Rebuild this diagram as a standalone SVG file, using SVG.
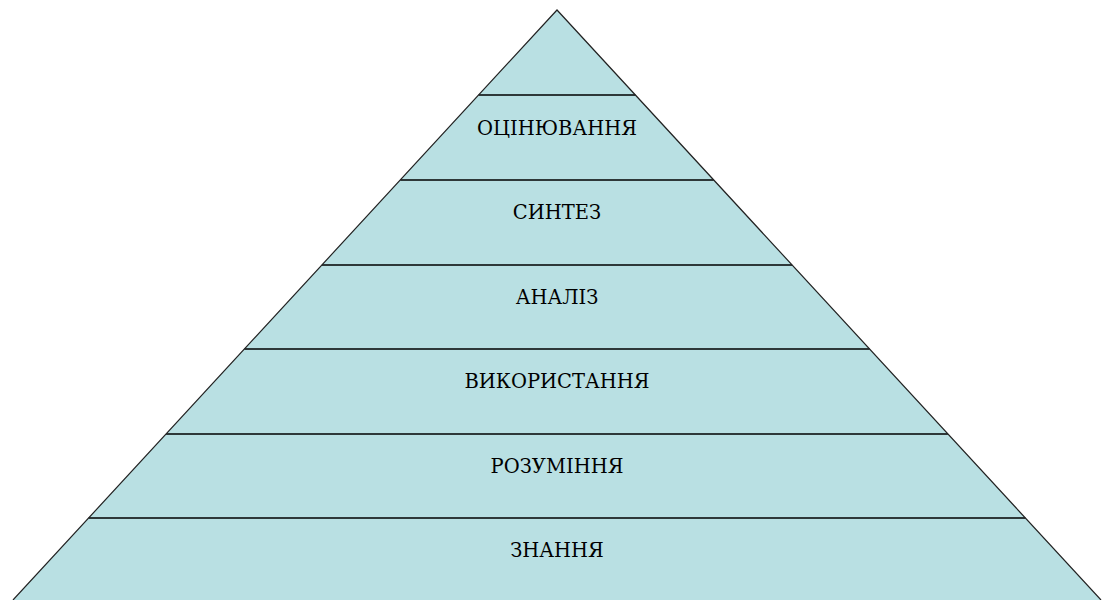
<svg xmlns="http://www.w3.org/2000/svg" width="1103" height="600" viewBox="0 0 1103 600">
<style>
.lvl{fill:#b9e0e3;stroke:none}
.sep{stroke:#000;stroke-width:1.3}
.edge{fill:none;stroke:#222;stroke-width:1.2}
.lbl{font-family:'DejaVu Serif','Liberation Serif',serif;font-size:19.5px;fill:#000;text-anchor:middle}
</style>
<rect width="1103" height="600" fill="#fff"/>
<g id="pyramid">
<polygon class="lvl" points="557,10 13,600 1101,600"/>
</g>
<g id="connectors">
<line class="sep" x1="478.6" y1="95" x2="635.4" y2="95"/>
<line class="sep" x1="400.3" y1="180" x2="713.7" y2="180"/>
<line class="sep" x1="321.9" y1="265" x2="792.1" y2="265"/>
<line class="sep" x1="244.4" y1="349" x2="869.6" y2="349"/>
<line class="sep" x1="166.1" y1="434" x2="947.9" y2="434"/>
<line class="sep" x1="88.6" y1="518" x2="1025.4" y2="518"/>
<polyline class="edge" points="13,600 557,10 1101,600"/>
</g>
<g id="n-ocin"><text class="lbl" x="557" y="135">ОЦІНЮВАННЯ</text></g>
<g id="n-syntez"><text class="lbl" x="557" y="219">СИНТЕЗ</text></g>
<g id="n-analiz"><text class="lbl" x="557" y="304">АНАЛІЗ</text></g>
<g id="n-vykor"><text class="lbl" x="557" y="388">ВИКОРИСТАННЯ</text></g>
<g id="n-rozum"><text class="lbl" x="557" y="473">РОЗУМІННЯ</text></g>
<g id="n-znan"><text class="lbl" x="557" y="557">ЗНАННЯ</text></g>
</svg>
